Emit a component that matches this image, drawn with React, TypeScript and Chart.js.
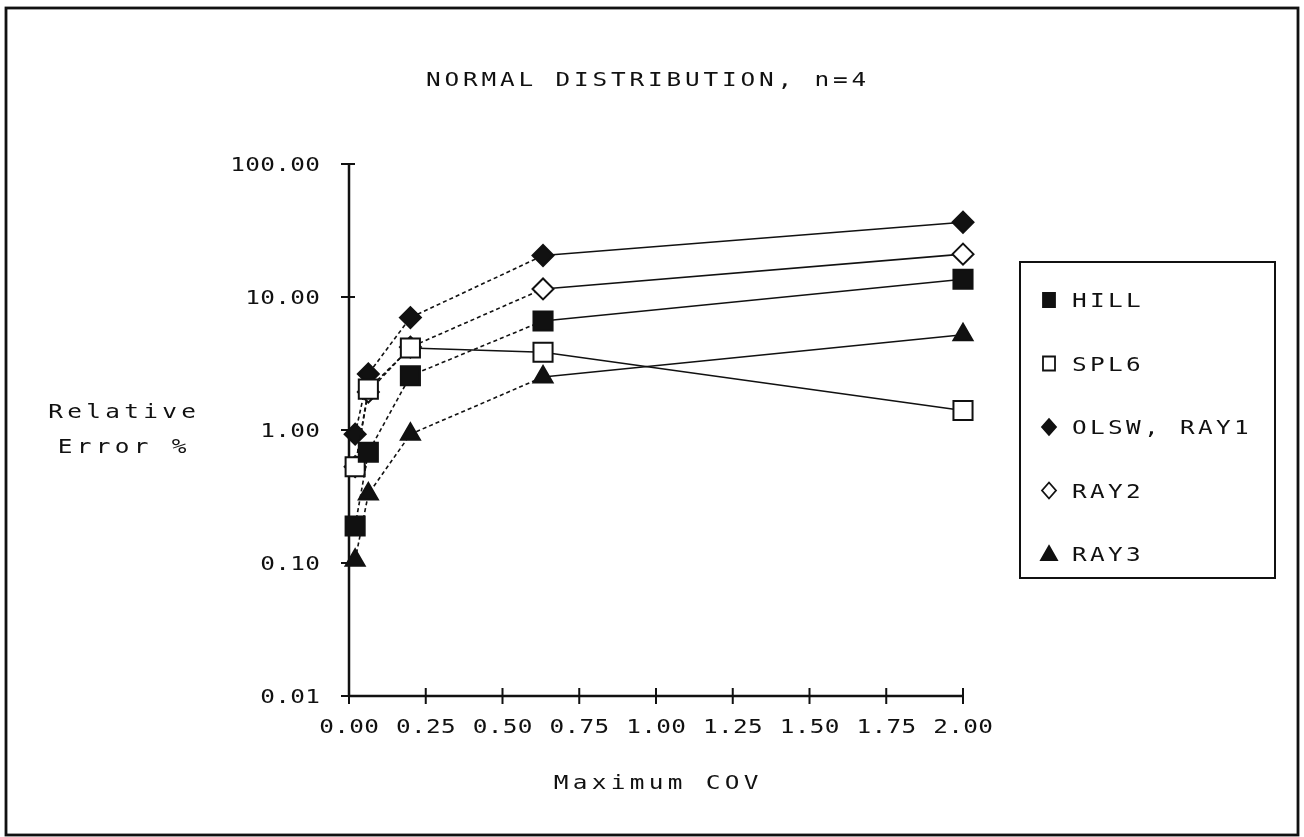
import React, { useEffect, useRef } from "react";
import { Chart, registerables } from "chart.js";

Chart.register(...registerables);

// ---- data ----
const covValues = [0.02, 0.063, 0.2, 0.632, 2.0];
const hillErr = [0.19, 0.68, 2.56, 6.6, 13.6];
const spl6Err = [0.53, 2.03, 4.14, 3.84, 1.4];
const olswErr = [0.93, 2.64, 7.0, 20.5, 36.5];
const ray2Err = [0.53, 1.93, 4.2, 11.5, 21.0];
const ray3Err = [0.105, 0.33, 0.93, 2.5, 5.2];
const seriesNames = ["HILL", "SPL6", "OLSW, RAY1", "RAY2", "RAY3"];
const xTickValues = [0, 0.25, 0.5, 0.75, 1, 1.25, 1.5, 1.75, 2];
const xTickLabels = ["0.00", "0.25", "0.50", "0.75", "1.00", "1.25", "1.50", "1.75", "2.00"];
const yTickValues = [0.01, 0.1, 1, 10, 100];
const yTickLabels = ["0.01", "0.10", "1.00", "10.00", "100.00"];
const chartTitle = "NORMAL DISTRIBUTION, n=4";
const xAxisTitle = "Maximum COV";
const yAxisTitleLines = ["Relative", "Error %"];

const FONT = '"DejaVu Sans Mono", "Liberation Mono", monospace';
const INK = "#111";
const GLYPH_STRETCH = 1.22;

type Marker = { style: "rect" | "rectRot" | "triangle"; filled: boolean };
const markers: Marker[] = [
  { style: "rect", filled: true },
  { style: "rect", filled: false },
  { style: "rectRot", filled: true },
  { style: "rectRot", filled: false },
  { style: "triangle", filled: true },
];

function drawSpaced(
  ctx: CanvasRenderingContext2D,
  text: string,
  x: number,
  cy: number,
  size: number,
  pitch: number,
  align: "left" | "center" | "right"
) {
  ctx.save();
  ctx.font = `${size}px ${FONT}`;
  ctx.fillStyle = INK;
  ctx.textAlign = "left";
  ctx.textBaseline = "alphabetic";
  const adv = ctx.measureText("0").width * GLYPH_STRETCH;
  const total = (text.length - 1) * pitch + adv;
  const start = align === "left" ? x : align === "center" ? x - total / 2 : x - total;
  const base = cy + size * 0.365;
  for (let i = 0; i < text.length; i++) {
    ctx.save();
    ctx.translate(start + i * pitch, base);
    ctx.scale(GLYPH_STRETCH, 1);
    ctx.fillText(text[i], 0, 0);
    ctx.restore();
  }
  ctx.restore();
}

function drawLegendMarker(ctx: CanvasRenderingContext2D, m: Marker, x: number, y: number) {
  ctx.save();
  ctx.beginPath();
  if (m.style === "rect") {
    ctx.rect(x - 6, y - 7, 12, 14);
  } else if (m.style === "rectRot") {
    ctx.moveTo(x, y - 8);
    ctx.lineTo(x + 7, y);
    ctx.lineTo(x, y + 8);
    ctx.lineTo(x - 7, y);
    ctx.closePath();
  } else {
    ctx.moveTo(x, y - 8);
    ctx.lineTo(x + 8, y + 6);
    ctx.lineTo(x - 8, y + 6);
    ctx.closePath();
  }
  ctx.lineWidth = 1.8;
  ctx.strokeStyle = INK;
  ctx.fillStyle = m.filled ? INK : "#fff";
  ctx.fill();
  ctx.stroke();
  ctx.restore();
}

const decorPlugin = {
  id: "decor",
  beforeDraw(chart: any) {
    const ctx: CanvasRenderingContext2D = chart.ctx;
    ctx.save();
    ctx.fillStyle = "#fff";
    ctx.fillRect(0, 0, chart.width, chart.height);
    ctx.strokeStyle = INK;
    ctx.lineWidth = 2.8;
    ctx.strokeRect(6, 8, 1292, 827);
    ctx.restore();
  },
  beforeDatasetsDraw(chart: any) {
    const ctx: CanvasRenderingContext2D = chart.ctx;
    const xs = chart.scales.x;
    const ys = chart.scales.y;
    const x0 = xs.getPixelForValue(0);
    const x1 = xs.getPixelForValue(2);
    const yTop = ys.getPixelForValue(100);
    const yBot = ys.getPixelForValue(0.01);
    ctx.save();
    ctx.strokeStyle = INK;
    ctx.lineWidth = 2.5;
    ctx.beginPath();
    ctx.moveTo(x0, yTop);
    ctx.lineTo(x0, yBot);
    ctx.moveTo(x0, yBot);
    ctx.lineTo(x1, yBot);
    ctx.stroke();
    ctx.lineWidth = 2;
    ctx.beginPath();
    yTickValues.forEach((v) => {
      const py = ys.getPixelForValue(v);
      ctx.moveTo(x0 - 8, py);
      ctx.lineTo(x0 + 6, py);
    });
    xTickValues.forEach((v) => {
      const px = xs.getPixelForValue(v);
      ctx.moveTo(px, yBot - 8);
      ctx.lineTo(px, yBot + 8);
    });
    ctx.stroke();
    ctx.restore();
  },
  afterDraw(chart: any) {
    const ctx: CanvasRenderingContext2D = chart.ctx;
    const xs = chart.scales.x;
    const ys = chart.scales.y;
    const x0 = xs.getPixelForValue(0);
    const yBot = ys.getPixelForValue(0.01);
    // tick labels
    yTickValues.forEach((v, i) => {
      drawSpaced(ctx, yTickLabels[i], 320, ys.getPixelForValue(v), 20, 15, "right");
    });
    xTickValues.forEach((v, i) => {
      drawSpaced(ctx, xTickLabels[i], xs.getPixelForValue(v), yBot + 30, 20, 15, "center");
    });
    // titles
    drawSpaced(ctx, chartTitle, 646, 79, 20, 18.5, "center");
    drawSpaced(ctx, xAxisTitle, (x0 + xs.getPixelForValue(2)) / 2, 782, 20, 19, "center");
    drawSpaced(ctx, yAxisTitleLines[0], 122, 411, 20, 19, "center");
    drawSpaced(ctx, yAxisTitleLines[1], 122, 446, 20, 19, "center");
    // legend
    ctx.save();
    ctx.strokeStyle = INK;
    ctx.lineWidth = 2;
    ctx.strokeRect(1020, 262, 255, 316);
    ctx.restore();
    seriesNames.forEach((name, i) => {
      const cy = 300 + i * 63.5;
      drawLegendMarker(ctx, markers[i], 1049, cy);
      drawSpaced(ctx, name, 1072, cy, 20, 18, "left");
    });
  },
};

const seriesValues = [hillErr, spl6Err, olswErr, ray2Err, ray3Err];
const markerRadius: Record<string, number> = { rect: 13.5, rectRot: 10.5, triangle: 11 };

export default function App() {
  const canvasRef = useRef<HTMLCanvasElement | null>(null);

  useEffect(() => {
    if (!canvasRef.current) return;
    const datasets = seriesValues.map((vals, si) => {
      const m = markers[si];
      const dashBefore = si === 1 ? 0.15 : 0.5;
      return {
        label: seriesNames[si],
        data: covValues.map((x, i) => ({ x, y: vals[i] })),
        borderColor: INK,
        borderWidth: 1.6,
        backgroundColor: m.filled ? INK : "#fff",
        pointStyle: m.style,
        pointRadius: markerRadius[m.style],
        pointBorderWidth: 2,
        pointBorderColor: INK,
        pointBackgroundColor: m.filled ? INK : "#fff",
        fill: false,
        tension: 0,
        clip: false as const,
        segment: {
          borderDash: (c: any) => (c.p0.parsed.x < dashBefore ? [4, 3] : []),
        },
      };
    });
    const chart = new Chart(canvasRef.current, {
      type: "line",
      data: { datasets },
      options: {
        responsive: false,
        animation: false,
        devicePixelRatio: 1,
        events: [],
        layout: { padding: { left: 349, right: 341, top: 164, bottom: 141 } },
        plugins: {
          legend: { display: false },
          title: { display: false },
          tooltip: { enabled: false },
        },
        scales: {
          x: { type: "linear", min: 0, max: 2, display: false },
          y: { type: "logarithmic", min: 0.01, max: 100, display: false },
        },
      },
      plugins: [decorPlugin],
    });
    return () => chart.destroy();
  }, []);

  return (
    <div style={{ position: "absolute", left: 0, top: 0, width: 1304, height: 837, background: "#fff" }}>
      <canvas ref={canvasRef} width={1304} height={837} style={{ display: "block" }} />
    </div>
  );
}
